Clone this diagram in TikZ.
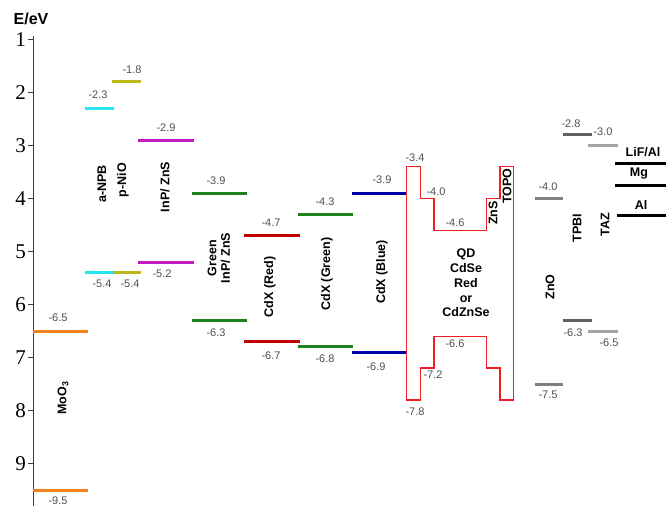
\documentclass[tikz,border=0pt]{standalone}
\usepackage{fontspec}
\setmainfont{Liberation Sans}
\newfontfamily\tickfont{Liberation Serif}
\definecolor{cOrange}{RGB}{245,128,30}
\definecolor{cCyan}{RGB}{40,228,240}
\definecolor{cOlive}{RGB}{190,184,22}
\definecolor{cMag}{RGB}{190,30,190}
\definecolor{cGreen}{RGB}{30,128,30}
\definecolor{cRed}{RGB}{190,0,0}
\definecolor{cBlue}{RGB}{0,0,170}
\definecolor{cQD}{RGB}{238,30,36}
\definecolor{cZnO}{RGB}{128,128,128}
\definecolor{cTPBI}{RGB}{96,96,96}
\definecolor{cTAZ}{RGB}{165,165,165}
\definecolor{numgray}{RGB}{80,80,80}
\definecolor{axisgray}{RGB}{60,60,60}
\begin{document}
\begin{tikzpicture}[x=1pt,y=-1pt,
  declare function={ey(\e)=39.5+53*(\e-1);},
  lvl/.style={line width=3pt},
  num/.style={font=\fontsize{11}{13}\selectfont, text=numgray, inner sep=0pt},
  vlab/.style={font=\fontsize{12.5}{13.5}\selectfont\bfseries, rotate=90, inner sep=0pt, align=center},
  hlab/.style={font=\fontsize{12.5}{14.7}\selectfont\bfseries, inner sep=0pt, align=center},
  ticklab/.style={font=\fontsize{21}{22}\selectfont\tickfont, inner sep=0pt, anchor=east},
  axisline/.style={line width=1pt, draw=axisgray}
]
\useasboundingbox (0,0) rectangle (666,506);

% axis
\coordinate (atop) at (33,36);
\coordinate (abot) at (33,506);
\draw[axisline] (atop) -- (abot);
\foreach \n in {1,...,9}{
  \draw[axisline] (28,{ey(\n)}) -- (33,{ey(\n)});
  \node[ticklab] (t\n) at (26,{ey(\n)}) {\n};
}
\node[font=\fontsize{16}{18}\selectfont\bfseries, inner sep=0pt] (elab) at (31,19) {E/eV};

% MoO3
\draw[lvl,cOrange] (33,{ey(6.5)}) -- (88,{ey(6.5)});
\draw[lvl,cOrange] (33,{ey(9.5)}) -- (88,{ey(9.5)});
\node[num] (n65a) at (58,{ey(6.5)-13}) {-6.5};
\node[num] (n95) at (58,{ey(9.5)+11}) {-9.5};
\node[vlab] (moo) at (63,398) {MoO\textsubscript{3}};

% a-NPB
\draw[lvl,cCyan] (85,{ey(2.3)}) -- (114,{ey(2.3)});
\draw[lvl,cCyan] (85,{ey(5.4)}) -- (113,{ey(5.4)});
\node[num] (n23) at (98,95) {-2.3};
\node[num] (n54a) at (102,284) {-5.4};
\node[vlab] (npb) at (102,184) {a-NPB};

% p-NiO
\draw[lvl,cOlive] (112,{ey(1.8)}) -- (141,{ey(1.8)});
\draw[lvl,cOlive] (113,{ey(5.4)}) -- (141,{ey(5.4)});
\node[num] (n18) at (132,70) {-1.8};
\node[num] (n54b) at (130,284) {-5.4};
\node[vlab] (nio) at (123,180) {p-NiO};

% InP/ZnS
\draw[lvl,cMag] (138,{ey(2.9)}) -- (194,{ey(2.9)});
\draw[lvl,cMag] (138,{ey(5.2)}) -- (194,{ey(5.2)});
\node[num] (n29) at (166,128) {-2.9};
\node[num] (n52) at (162,274) {-5.2};
\node[vlab] (inp) at (165,187) {InP/ ZnS};

% Green InP/ZnS
\draw[lvl,cGreen] (192,{ey(3.9)}) -- (247,{ey(3.9)});
\draw[lvl,cGreen] (192,{ey(6.3)}) -- (247,{ey(6.3)});
\node[num] (n39a) at (216,181) {-3.9};
\node[num] (n63a) at (216,333) {-6.3};
\node[vlab] (ginp) at (219,258) {Green\\InP/ ZnS};

% CdX (Red)
\draw[lvl,cRed] (244,{ey(4.7)}) -- (300,{ey(4.7)});
\draw[lvl,cRed] (244,{ey(6.7)}) -- (300,{ey(6.7)});
\node[num] (n47) at (271,223) {-4.7};
\node[num] (n67) at (271,356) {-6.7};
\node[vlab] (cdr) at (270,287) {CdX (Red)};

% CdX (Green)
\draw[lvl,cGreen] (298,{ey(4.3)}) -- (353,{ey(4.3)});
\draw[lvl,cGreen] (298,{ey(6.8)}) -- (353,{ey(6.8)});
\node[num] (n43) at (325,202) {-4.3};
\node[num] (n68) at (325,359) {-6.8};
\node[vlab] (cdg) at (327,274) {CdX (Green)};

% CdX (Blue)
\draw[lvl,cBlue] (352,{ey(3.9)}) -- (407,{ey(3.9)});
\draw[lvl,cBlue] (352,{ey(6.9)}) -- (407,{ey(6.9)});
\node[num] (n39b) at (382,180) {-3.9};
\node[num] (n69) at (376,367) {-6.9};
\node[vlab] (cdb) at (382,272) {CdX (Blue)};

% QD outline
\draw[cQD, line width=1.4pt, line join=miter]
  (406.7,{ey(3.4)}) -- (420.7,{ey(3.4)}) -- (420.7,{ey(4.0)}) -- (434,{ey(4.0)})
  -- (434,{ey(4.6)}) -- (486.7,{ey(4.6)}) -- (486.7,{ey(4.0)}) -- (500,{ey(4.0)})
  -- (500,{ey(3.4)}) -- (513.3,{ey(3.4)}) -- (513.3,{ey(7.8)}) -- (500,{ey(7.8)})
  -- (500,{ey(7.2)}) -- (486.7,{ey(7.2)}) -- (486.7,{ey(6.6)}) -- (434,{ey(6.6)})
  -- (434,{ey(7.2)}) -- (420.7,{ey(7.2)}) -- (420.7,{ey(7.8)}) -- (406.7,{ey(7.8)})
  -- cycle;
\node[num] (n34) at (415,158) {-3.4};
\node[num] (n40a) at (436,192) {-4.0};
\node[num] (n46) at (455,223) {-4.6};
\node[num] (n66) at (455,344) {-6.6};
\node[num] (n72) at (433,375) {-7.2};
\node[num] (n78) at (415,412) {-7.8};
\node[vlab] (zns) at (493,213) {ZnS};
\node[vlab] (topo) at (507,186) {TOPO};
\node[hlab] (qd) at (466,283) {QD\\CdSe\\Red\\or\\CdZnSe};

% ZnO
\draw[lvl,cZnO] (535,{ey(4.0)}) -- (563,{ey(4.0)});
\draw[lvl,cZnO] (535,{ey(7.5)}) -- (563,{ey(7.5)});
\node[num] (n40b) at (548,187) {-4.0};
\node[num] (n75) at (548,395) {-7.5};
\node[vlab] (zno) at (550,287) {ZnO};

% TPBI
\draw[lvl,cTPBI] (563,{ey(2.8)}) -- (592,{ey(2.8)});
\draw[lvl,cTPBI] (563,{ey(6.3)}) -- (592,{ey(6.3)});
\node[num] (n28) at (571,124) {-2.8};
\node[num] (n63b) at (573,333) {-6.3};
\node[vlab] (tpbi) at (577,228) {TPBI};

% TAZ
\draw[lvl,cTAZ] (588,{ey(3.0)}) -- (618,{ey(3.0)});
\draw[lvl,cTAZ] (588,{ey(6.5)}) -- (618,{ey(6.5)});
\node[num] (n30) at (603,132) {-3.0};
\node[num] (n65b) at (609,343) {-6.5};
\node[vlab] (taz) at (605,225) {TAZ};

% cathodes
\draw[lvl,black] (615,163) -- (666,163);
\draw[lvl,black] (615,185) -- (666,185);
\draw[lvl,black] (617,215.5) -- (666,215.5);
\node[hlab] (lif) at (643,152) {LiF/Al};
\node[hlab] (mg) at (639,174) {Mg};
\node[hlab] (al) at (641,205) {Al};
\end{tikzpicture}
\end{document}
